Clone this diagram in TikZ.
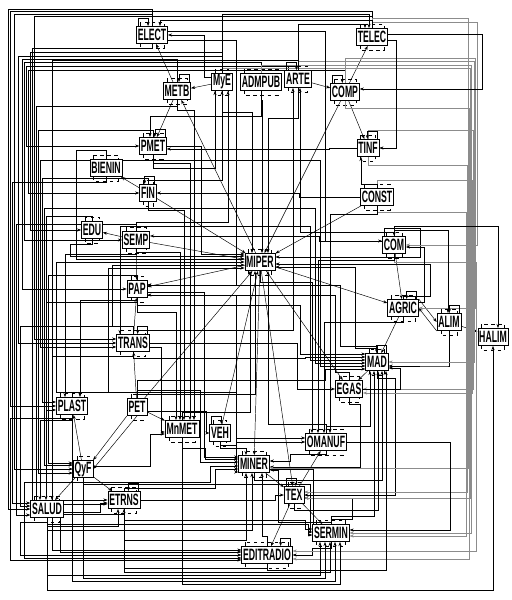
\documentclass[tikz,border=0pt]{standalone}
\usepackage{fontspec}
\newfontfamily\rotulo[FakeStretch=0.53]{Liberation Sans}
\usetikzlibrary{arrows.meta,backgrounds}

\begin{document}
\begin{tikzpicture}[
        x=0.03cm, y=-0.03cm,
        setor/.style={draw, fill=white, line width=0.5pt,
            font=\rotulo\bfseries\fontsize{14}{14}\selectfont,
            inner xsep=1.2pt, inner ysep=0pt, minimum height=0.52cm},
        sombra/.style={dashed, line width=0.3pt},
        fluxo/.style={->, line width=0.4pt},
        barra/.style={->, line width=0.3pt, draw=black!45},
        >={Stealth[length=3.5pt,width=2.6pt]}
    ]

        \useasboundingbox (0,0) rectangle (511,600);

        %--------------------------------
        % setores
        %--------------------------------
        \foreach \n/\x/\y in {ELECT/152/35, TELEC/372/37, METB/177/91, MyE/222/82,
                ADMPUB/261/82, ARTE/298/79, COMP/345/92, PMET/153/146, TINF/368/148,
                BIENIN/106/168, FIN/148/193, CONST/377/197, EDU/92/230, SEMP/136/240,
                COM/394/245, MIPER/260/262, PAP/137/289, AGRIC/403/308, ALIM/449/322,
                HALIM/493/337, TRANS/133/343, MAD/377/362, EGAS/349/389, PLAST/72/406,
                PET/137/407, MnMET/182/429, VEH/220/433, OMANUF/326/442, MINER/254/464,
                QyF/83/469, TEX/294/495, ETRNS/124/500, SALUD/47/509, SERMIN/331/533,
                EDITRADIO/267/555}
            \node[setor] (\n) at (\x,\y) {\n};

        \begin{pgfonlayer}{background}

        % caixas tracejadas
        \foreach \n in {ELECT, TELEC, METB, MyE, ADMPUB, ARTE, COMP, PMET, TINF, BIENIN,
                FIN, CONST, EDU, SEMP, COM, MIPER, PAP, AGRIC, ALIM, HALIM, TRANS, MAD,
                EGAS, PLAST, PET, MnMET, VEH, OMANUF, MINER, QyF, TEX, ETRNS, SALUD,
                SERMIN, EDITRADIO}
            \draw[sombra] ([shift={(4,-4)}]\n.north west) rectangle ([shift={(-4,4)}]\n.south east);

        %--------------------------------
        % ligacoes diretas
        %--------------------------------
        \foreach \s/\t in {METB/ELECT, MyE/METB, METB/PMET, MIPER/METB, FIN/BIENIN,
                ARTE/COMP, COMP/TELEC, COMP/TINF, COMP/MIPER, CONST/MIPER, COM/AGRIC,
                AGRIC/MAD, ALIM/HALIM, MIPER/AGRIC, MIPER/EGAS, SEMP/EDU, SEMP/MIPER,
                FIN/MIPER, MIPER/PAP, SEMP/PAP, TRANS/PAP, PET/TRANS, PET/MIPER,
                VEH/MIPER, MIPER/MINER, MIPER/TEX, PET/MnMET, QyF/PLAST, QyF/SALUD,
                QyF/ETRNS, MINER/TEX, TEX/OMANUF, TEX/SERMIN, TEX/EDITRADIO, MAD/EGAS}
            \draw[fluxo] (\s) -- (\t);

        \draw[fluxo] (AGRIC.north east) -- (ALIM.west);
        \draw[fluxo] (ALIM.south west) -- (AGRIC.east);
        \draw[fluxo] (PET.south west) -- (QyF.north east);
        \draw[fluxo] (PET.south) -- (QyF.east);

        %--------------------------------
        % ligacoes pelas barras laterais
        %--------------------------------
        \foreach \s/\t/\a/\b/\l/\o in {
                ELECT/SALUD/west/8/9/0, TELEC/PLAST/west/10/11/0,
                BIENIN/SALUD/west/12/182/-6, ELECT/QyF/west/14/14/0,
                SEMP/SALUD/west/16/224/6, MyE/TRANS/west/18/56/0,
                TRANS/SALUD/west/20/326/-3, METB/PAP/west/22/59/0,
                ADMPUB/SEMP/west/24/62/0, ARTE/PMET/west/26/66/0,
                COMP/FIN/west/28/70/0, MyE/EDU/west/30/52/0,
                ELECT/ETRNS/west/32/48/0, TELEC/TRANS/west/34/16/-4,
                METB/ETRNS/west/36/106/4, PMET/QyF/west/38/130/4,
                PMET/TRANS/west/40/160/4, FIN/PLAST/west/42/178/-4,
                FIN/QyF/west/44/208/-4, EDU/PLAST/west/46/216/4,
                PAP/QyF/west/48/275/-6, ARTE/EDITRADIO/west/52/60/-5,
                PLAST/EDITRADIO/west/10/418/5, SALUD/EDITRADIO/west/20/522/0,
                QyF/EDITRADIO/west/24/482/3, ETRNS/EDITRADIO/west/60/514/-3,
                EDU/MIPER/west/70/244/-6, BIENIN/MIPER/west/76/150/-3,
                PLAST/MIPER/west/56/392/0, TRANS/MIPER/west/112/326/3,
                PET/MIPER/west/108/392/6,
                PAP/MAD/west/300/305/-8, TRANS/MAD/west/305/358/-5,
                SEMP/MAD/west/310/226/-2, FIN/MAD/west/315/208/1,
                PMET/MAD/west/320/160/4, PET/MAD/west/325/380/7,
                MnMET/MINER/west/205/448/-5, PET/MINER/west/200/390/-2,
                QyF/MINER/west/210/482/2, ETRNS/MINER/west/215/488/5,
                PLAST/MINER/west/236/392/8,
                ETRNS/SERMIN/west/305/520/-4, QyF/SERMIN/west/310/484/-1,
                SALUD/SERMIN/west/308/524/2,
                COM/MIPER/east/420/228/-5, AGRIC/MIPER/east/430/296/2,
                MAD/MIPER/east/355/348/5, EGAS/PAP/east/335/372/6,
                MAD/PAP/east/340/346/-4, OMANUF/MINER/east/290/454/-3,
                EGAS/MINER/east/360/404/3, SERMIN/MINER/east/278/522/6,
                MAD/TEX/east/395/378/0, SERMIN/TEX/east/352/519/3,
                VEH/OMANUF/west/236/445/0, SERMIN/EDITRADIO/east/312/548/0,
                ALIM/MAD/east/448/366/4}
            \draw[fluxo] (\s) |- (\b,\l) |- ([shift={(0,\o)}]\t.\a);

        % barra da direita
        \foreach \s/\t/\b/\l/\o in {
                TELEC/COM/477/22/0, COM/EDITRADIO/476/262/-4,
                COMP/AGRIC/475/58/0, ARTE/MAD/474/61/0,
                TINF/EGAS/473/130/0, CONST/EGAS/472/180/4,
                ADMPUB/SERMIN/471/65/0, MyE/TEX/470/68/3,
                COMP/EDITRADIO/469/108/4, TELEC/MINER/468/18/4,
                TINF/TEX/467/165/-3, CONST/SERMIN/466/212/3}
            \draw[barra] (\s) |- (\b,\l) |- ([shift={(0,\o)}]\t.east);

        %--------------------------------
        % entradas por cima e por baixo
        %--------------------------------
        \foreach \s/\t/\a/\x/\l in {
                PAP/MnMET/north/176/312, SEMP/MnMET/north/180/252,
                FIN/MnMET/north/184/210, PMET/MnMET/north/190/163,
                METB/MnMET/north/194/110,
                MIPER/OMANUF/north/312/282, COM/OMANUF/north/318/260,
                AGRIC/OMANUF/north/324/322, CONST/OMANUF/north/330/214,
                VEH/MINER/north/246/448,
                PLAST/SALUD/north/40/420, PAP/SALUD/north/46/302,
                TRANS/SALUD/north/52/356, SEMP/PLAST/north/65/254,
                PAP/PLAST/north/80/300, SEMP/TRANS/north/120/226,
                COM/ALIM/north/448/230, COM/HALIM/north/498/226,
                SALUD/HALIM/south/493/590,
                SALUD/SERMIN/south/320/575, QyF/SERMIN/south/325/578,
                ETRNS/SERMIN/south/330/572, PLAST/SERMIN/south/335/581,
                MnMET/SERMIN/south/340/584,
                ETRNS/MINER/south/246/540, SALUD/MINER/south/252/530,
                EDITRADIO/MINER/south/262/536,
                OMANUF/MAD/south/370/426, SERMIN/MAD/south/374/516,
                TEX/MAD/south/378/510, MINER/MAD/south/382/480,
                EDITRADIO/MAD/south/386/570,
                MnMET/MIPER/south/250/412, OMANUF/MIPER/south/268/424,
                PET/MIPER/south/255/394,
                MyE/MIPER/north/252/112, ADMPUB/MIPER/north/262/100,
                ARTE/MIPER/north/268/118,
                PMET/MyE/south/215/168, FIN/MyE/south/222/180,
                SEMP/MyE/south/228/222, COM/ARTE/south/300/232,
                TRANS/ARTE/south/293/330, CONST/TINF/south/361/184,
                TELEC/ELECT/north/160/20, ARTE/TELEC/north/365/24,
                MyE/TELEC/north/369/14, ADMPUB/PMET/north/150/116,
                SALUD/ETRNS/south/118/526, EDITRADIO/ETRNS/south/124/568}
            \draw[fluxo] (\s) |- (\x,\l) -- (\t.\a -| \x,0);

        %--------------------------------
        % saidas laterais
        %--------------------------------
        \foreach \s/\a/\p/\dx/\t/\e/\o in {
                TELEC/east/3/8/TINF/east/0, TELEC/east/-3/94/COMP/east/-3,
                ELECT/east/5/68/PAP/east/-4, ELECT/east/-4/157/COM/west/-4,
                PMET/east/0/34/MIPER/west/-8, PAP/east/3/57/MINER/west/-7,
                PAP/east/6/89/OMANUF/west/-4, TRANS/east/0/148/EGAS/west/0,
                TRANS/east/4/12/MnMET/west/3, PET/east/4/59/VEH/west/0,
                QyF/east/-3/57/MnMET/west/5, ETRNS/east/0/135/TEX/west/0,
                SALUD/east/3/37/ETRNS/west/3, MINER/east/5/44/SERMIN/west/-4,
                EGAS/east/0/37/MAD/east/6, AGRIC/east/-6/6/COM/east/2,
                OMANUF/east/0/103/SERMIN/east/-3, COM/west/-4/-63/SEMP/east/-4,
                CONST/west/0/-61/FIN/east/0, TINF/west/0/-27/PMET/east/3,
                MyE/west/-5/-7/ELECT/east/0}
            \draw[fluxo] ([shift={(0,\p)}]\s.\a) -- ++(\dx,0) |- ([shift={(0,\o)}]\t.\e);

        %--------------------------------
        % lacos
        %--------------------------------
        \foreach \n/\a/\d in {METB/east/-1, ARTE/west/1, COMP/west/1, TINF/east/-1,
                FIN/east/-1, AGRIC/east/-1, ALIM/east/-1, TRANS/east/-1, ETRNS/east/-1,
                VEH/west/1, COM/west/1, MAD/east/-1, ELECT/west/1, EDITRADIO/east/-1,
                TEX/west/1, PMET/east/-1}
            \draw[fluxo] ([shift={(2*\d,0)}]\n.north \a) -- ++(0,-8) -| ([shift={(12*\d,0)}]\n.north \a);

        \end{pgfonlayer}

    \end{tikzpicture}
\end{document}
